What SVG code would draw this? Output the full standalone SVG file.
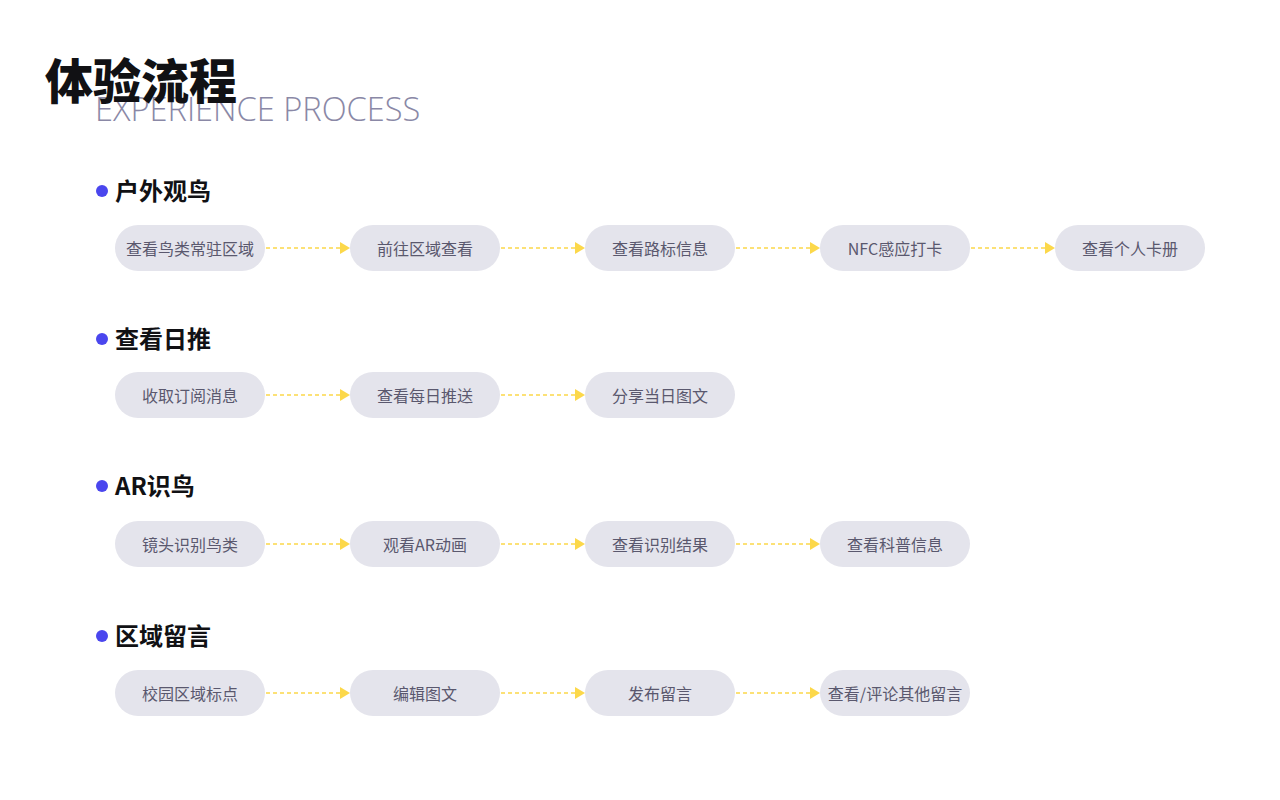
<svg xmlns="http://www.w3.org/2000/svg" width="1280" height="800" viewBox="0 0 1280 800">
<defs>
<style>
.title{font-family:"Noto Sans CJK SC","Noto Sans",sans-serif;font-weight:900;font-size:48px;fill:#111114}
.sub{font-family:"Open Sans","Noto Sans",sans-serif;font-weight:300;font-size:32.6px;fill:#8a88a6}
.sec{font-family:"Noto Sans CJK SC","Noto Sans",sans-serif;font-weight:700;font-size:24px;fill:#111114}
.dot{fill:#4a46ee}
.node rect{fill:#e4e4ec}
.node text{font-family:"Noto Sans CJK SC","Noto Sans",sans-serif;font-size:16px;fill:#5a586e;text-anchor:middle}
.conn line{stroke:#fcd84a;stroke-width:1.6;stroke-dasharray:4 3;fill:none}
.conn path{fill:#fcd84a}
</style>
</defs>
<rect width="1280" height="800" fill="#ffffff"/>
<text class="sub" x="95" y="121">EXPERIENCE PROCESS</text>
<text class="title" x="45" y="99">体验流程</text>

<g id="sec1"><circle class="dot" cx="102" cy="191" r="6"/><text class="sec" x="115" y="200">户外观鸟</text></g>
<g id="sec2"><circle class="dot" cx="102" cy="339" r="6"/><text class="sec" x="115" y="348">查看日推</text></g>
<g id="sec3"><circle class="dot" cx="102" cy="486" r="6"/><text class="sec" x="115" y="495">AR识鸟</text></g>
<g id="sec4"><circle class="dot" cx="102" cy="636" r="6"/><text class="sec" x="115" y="645">区域留言</text></g>

<g id="n1-1" class="node"><rect x="115" y="225" width="150" height="46" rx="23"/><text x="190" y="255">查看鸟类常驻区域</text></g>
<g id="n1-2" class="node"><rect x="350" y="225" width="150" height="46" rx="23"/><text x="425" y="255">前往区域查看</text></g>
<g id="n1-3" class="node"><rect x="585" y="225" width="150" height="46" rx="23"/><text x="660" y="255">查看路标信息</text></g>
<g id="n1-4" class="node"><rect x="820" y="225" width="150" height="46" rx="23"/><text x="895" y="255">NFC感应打卡</text></g>
<g id="n1-5" class="node"><rect x="1055" y="225" width="150" height="46" rx="23"/><text x="1130" y="255">查看个人卡册</text></g>

<g id="n2-1" class="node"><rect x="115" y="372" width="150" height="46" rx="23"/><text x="190" y="402">收取订阅消息</text></g>
<g id="n2-2" class="node"><rect x="350" y="372" width="150" height="46" rx="23"/><text x="425" y="402">查看每日推送</text></g>
<g id="n2-3" class="node"><rect x="585" y="372" width="150" height="46" rx="23"/><text x="660" y="402">分享当日图文</text></g>

<g id="n3-1" class="node"><rect x="115" y="521" width="150" height="46" rx="23"/><text x="190" y="551">镜头识别鸟类</text></g>
<g id="n3-2" class="node"><rect x="350" y="521" width="150" height="46" rx="23"/><text x="425" y="551">观看AR动画</text></g>
<g id="n3-3" class="node"><rect x="585" y="521" width="150" height="46" rx="23"/><text x="660" y="551">查看识别结果</text></g>
<g id="n3-4" class="node"><rect x="820" y="521" width="150" height="46" rx="23"/><text x="895" y="551">查看科普信息</text></g>

<g id="n4-1" class="node"><rect x="115" y="670" width="150" height="46" rx="23"/><text x="190" y="700">校园区域标点</text></g>
<g id="n4-2" class="node"><rect x="350" y="670" width="150" height="46" rx="23"/><text x="425" y="700">编辑图文</text></g>
<g id="n4-3" class="node"><rect x="585" y="670" width="150" height="46" rx="23"/><text x="660" y="700">发布留言</text></g>
<g id="n4-4" class="node"><rect x="820" y="670" width="150" height="46" rx="23"/><text x="895" y="700">查看/评论其他留言</text></g>

<g id="connectors" class="conn">
<line x1="266" y1="248" x2="341" y2="248"/><path d="M340 242 L350 248 L340 254 Z"/>
<line x1="501" y1="248" x2="576" y2="248"/><path d="M575 242 L585 248 L575 254 Z"/>
<line x1="736" y1="248" x2="811" y2="248"/><path d="M810 242 L820 248 L810 254 Z"/>
<line x1="971" y1="248" x2="1046" y2="248"/><path d="M1045 242 L1055 248 L1045 254 Z"/>

<line x1="266" y1="395" x2="341" y2="395"/><path d="M340 389 L350 395 L340 401 Z"/>
<line x1="501" y1="395" x2="576" y2="395"/><path d="M575 389 L585 395 L575 401 Z"/>

<line x1="266" y1="544" x2="341" y2="544"/><path d="M340 538 L350 544 L340 550 Z"/>
<line x1="501" y1="544" x2="576" y2="544"/><path d="M575 538 L585 544 L575 550 Z"/>
<line x1="736" y1="544" x2="811" y2="544"/><path d="M810 538 L820 544 L810 550 Z"/>

<line x1="266" y1="693" x2="341" y2="693"/><path d="M340 687 L350 693 L340 699 Z"/>
<line x1="501" y1="693" x2="576" y2="693"/><path d="M575 687 L585 693 L575 699 Z"/>
<line x1="736" y1="693" x2="811" y2="693"/><path d="M810 687 L820 693 L810 699 Z"/>
</g>
</svg>
